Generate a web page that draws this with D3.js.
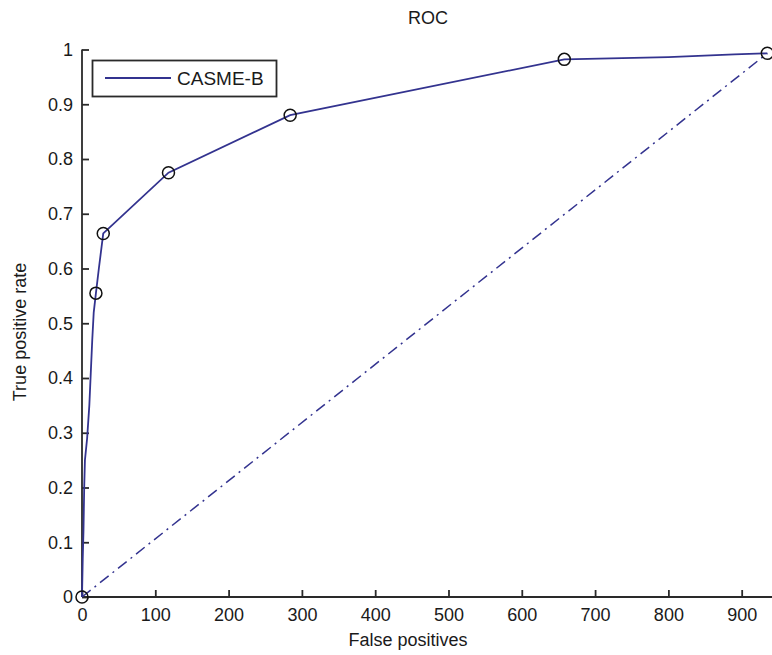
<!DOCTYPE html>
<html>
<head>
<meta charset="utf-8">
<script src="https://cdn.jsdelivr.net/npm/d3@7"></script>
<style>
  body { margin: 0; background: #fff; }
  text { font-family: "Liberation Sans", Arial, sans-serif; fill: #1a1a1a; }
</style>
</head>
<body>
<div id="chart"></div>
<script>
// ROC curve values (false positives / true positive rate)
const falsePos = [0, 1, 2, 3, 4, 7, 10, 12, 14, 16, 19, 23, 29, 118, 284, 658, 800, 890, 935];
const truePos  = [0, 0.07, 0.12, 0.2, 0.25, 0.29, 0.35, 0.41, 0.47, 0.52, 0.555, 0.6, 0.664, 0.775, 0.88, 0.982, 0.986, 0.991, 0.993];

// operating points drawn with circles
const markFp = [0, 19, 29, 118, 284, 658, 935];
const markTp = [0, 0.555, 0.664, 0.775, 0.88, 0.982, 0.993];

const xTicks = [0, 100, 200, 300, 400, 500, 600, 700, 800, 900];
const yTicks = [0, 0.1, 0.2, 0.3, 0.4, 0.5, 0.6, 0.7, 0.8, 0.9, 1];
const seriesName = "CASME-B";

const W = 772, H = 655;
const padL = 82, padR = 771, padT = 49.5, padB = 597;
const lineColor = "#33338f";

const svg = d3.select("#chart").append("svg")
    .attr("width", W).attr("height", H);

const x = d3.scaleLinear().domain([0, 940]).range([padL, padR]);
const y = d3.scaleLinear().domain([0, 1]).range([padB, padT]);

// axes (MATLAB style, ticks pointing inward, no box)
const xAxis = svg.append("g").attr("transform", `translate(0,${padB})`)
    .call(d3.axisTop(x).tickValues(xTicks).tickSize(7).tickFormat(d3.format("d")));
xAxis.select(".domain").attr("d", `M${padL},0H${W}`);
xAxis.selectAll("text").attr("y", 24).style("font-size", "18px").attr("dy", null)
    .attr("text-anchor", "middle");

const yAxis = svg.append("g").attr("transform", `translate(${padL},0)`)
    .call(d3.axisRight(y).tickValues(yTicks).tickSize(7).tickFormat(d => d === 0 || d === 1 ? d : d3.format(".1f")(d)));
yAxis.select(".domain").attr("d", `M0,${padT}V${padB}`);
yAxis.selectAll("text").attr("x", -9).attr("text-anchor", "end").style("font-size", "18px");

svg.selectAll(".domain, .tick line").attr("stroke", "#2a2a2a").attr("stroke-width", 1.8);
svg.selectAll(".tick text").attr("fill", "#1a1a1a").style("font-family", "'Liberation Sans', Arial, sans-serif");

// chance diagonal
svg.append("line")
    .attr("x1", x(0)).attr("y1", y(0))
    .attr("x2", x(falsePos[falsePos.length - 1])).attr("y2", y(truePos[truePos.length - 1]))
    .attr("stroke", lineColor).attr("stroke-width", 1.5)
    .attr("stroke-dasharray", "11,5,2,5");

// ROC line
const pts = falsePos.map((f, i) => [f, truePos[i]]);
svg.append("path")
    .attr("d", d3.line().x(d => x(d[0])).y(d => y(d[1]))(pts))
    .attr("fill", "none").attr("stroke", lineColor).attr("stroke-width", 1.8);

// markers
svg.append("g").selectAll("circle")
    .data(markFp.map((f, i) => [f, markTp[i]]))
    .enter().append("circle")
    .attr("cx", d => x(d[0])).attr("cy", d => y(d[1])).attr("r", 6)
    .attr("fill", "none").attr("stroke", "#111").attr("stroke-width", 1.5);

// legend
const lg = svg.append("g");
lg.append("rect").attr("x", 92.5).attr("y", 60.5).attr("width", 184).attr("height", 36)
    .attr("fill", "#fff").attr("stroke", "#2a2a2a").attr("stroke-width", 1.8);
lg.append("line").attr("x1", 105).attr("x2", 171).attr("y1", 78).attr("y2", 78)
    .attr("stroke", lineColor).attr("stroke-width", 1.8);
lg.append("text").attr("x", 177).attr("y", 85).style("font-size", "19px").text(seriesName);

// titles
svg.append("text").attr("x", (padL + 774) / 2).attr("y", 24).attr("text-anchor", "middle")
    .style("font-size", "18px").text("ROC");
svg.append("text").attr("x", 408).attr("y", 646).attr("text-anchor", "middle")
    .style("font-size", "18px").text("False positives");
svg.append("text").attr("transform", "translate(26,332) rotate(-90)").attr("text-anchor", "middle")
    .style("font-size", "18px").text("True positive rate");
</script>
</body>
</html>
